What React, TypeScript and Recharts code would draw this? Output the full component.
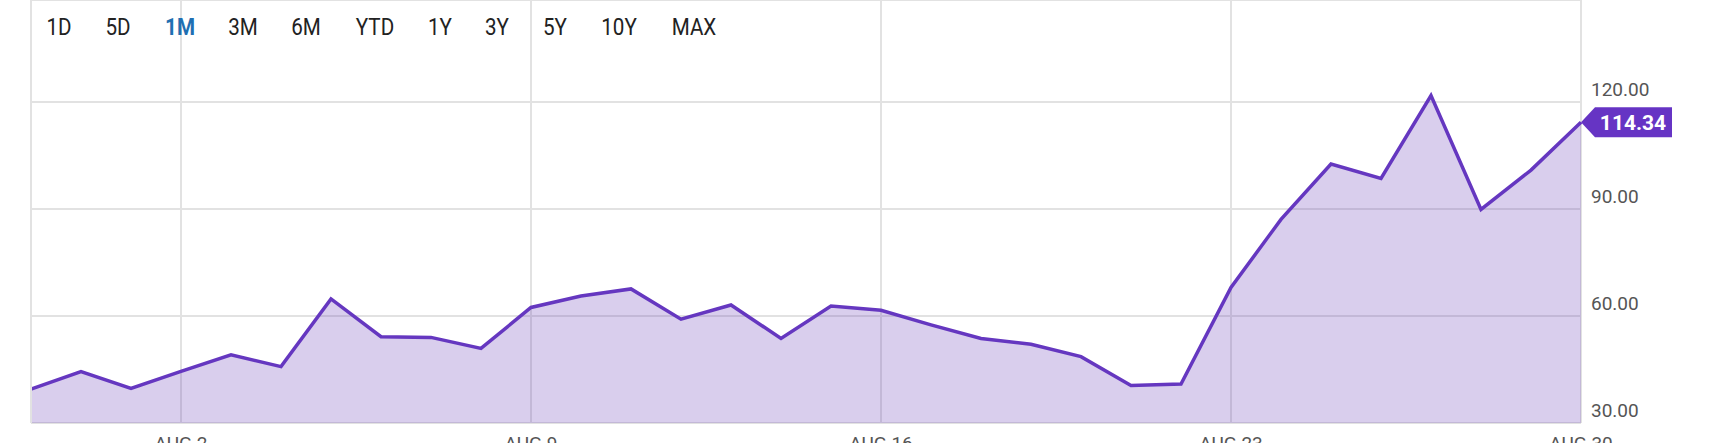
import React from "react";
import { AreaChart, Area, XAxis, YAxis, CartesianGrid, ReferenceLine } from "recharts";

const dates = [
  "Jul 30", "Jul 31", "Aug 1", "Aug 2", "Aug 3", "Aug 4", "Aug 5", "Aug 6",
  "Aug 7", "Aug 8", "Aug 9", "Aug 10", "Aug 11", "Aug 12", "Aug 13", "Aug 14",
  "Aug 15", "Aug 16", "Aug 17", "Aug 18", "Aug 19", "Aug 20", "Aug 21", "Aug 22",
  "Aug 23", "Aug 24", "Aug 25", "Aug 26", "Aug 27", "Aug 28", "Aug 29", "Aug 30",
];

const prices = [
  39.5, 44.4, 39.7, 44.5, 49.1, 45.8, 64.8, 54.2,
  54.0, 50.9, 62.4, 65.6, 67.6, 59.1, 63.1, 53.7,
  62.8, 61.6, 57.5, 53.7, 52.1, 48.6, 40.5, 40.9,
  68.0, 87.1, 102.6, 98.6, 121.8, 89.9, 100.9, 114.34,
];

const tickDates = ["Aug 2", "Aug 9", "Aug 16", "Aug 23", "Aug 30"];
const tickLabels = ["AUG 2", "AUG 9", "AUG 16", "AUG 23", "AUG 30"];
const yTicks = [30, 60, 90, 120];

const ranges = ["1D", "5D", "1M", "3M", "6M", "YTD", "1Y", "3Y", "5Y", "10Y", "MAX"];
const rangeCenters = [59, 118, 180, 243, 306, 375, 440, 497, 555, 619, 694];
const activeRange = "1M";

const data = dates.map((d, i) => ({ i, date: d, price: prices[i] }));
const xTicks = tickDates.map((d) => dates.indexOf(d));

const PURPLE = "#6537c0";
const BADGE = "#6634c4";
const GRID = "#e2e2e2";
const FONT = "Roboto, 'Noto Sans', sans-serif";

const XTick = (props: any) => {
  const { x, y, payload } = props;
  const idx = xTicks.indexOf(payload.value);
  return (
    <text x={x} y={y} dy="0.71em" textAnchor="middle" fill="#555" fontSize={19} fontFamily={FONT}>
      {idx >= 0 ? tickLabels[idx] : ""}
    </text>
  );
};

const YTick = (props: any) => {
  const { x, y, payload } = props;
  return (
    <text x={x} y={y - 6} textAnchor="start" fill="#555" fontSize={19} fontFamily={FONT}>
      {Number(payload.value).toFixed(2)}
    </text>
  );
};

const renderDot = (props: any) => {
  const { cx, cy, index } = props;
  if (index !== prices.length - 1) return <g key={`d${index}`} />;
  const pts = [
    [cx, cy],
    [cx + 14, cy - 15],
    [cx + 91, cy - 15],
    [cx + 91, cy + 15],
    [cx + 14, cy + 15],
  ]
    .map((p) => p.join(","))
    .join(" ");
  return (
    <g key="badge">
      <polygon points={pts} fill={BADGE} />
      <text x={cx + 52} y={cy + 8} textAnchor="middle" fill="#fff" fontSize={21} fontWeight={700} fontFamily={FONT}>
        {prices[index].toFixed(2)}
      </text>
    </g>
  );
};

export default function App() {
  return (
    <div
      style={{
        position: "absolute",
        left: 0,
        top: 0,
        width: 1713,
        height: 443,
        overflow: "hidden",
        background: "#fff",
      }}
    >
      <AreaChart width={1713} height={470} data={data} margin={{ top: 0, right: 0, bottom: 0, left: 31 }}>
        <CartesianGrid stroke={GRID} strokeWidth={2} vertical={true} horizontal={true} />
        <ReferenceLine x={0} stroke={GRID} strokeWidth={2} />
        <XAxis
          dataKey="i"
          type="number"
          domain={[0, dates.length - 1]}
          ticks={xTicks}
          tick={<XTick />}
          tickLine={false}
          axisLine={false}
          tickSize={6}
          tickMargin={8}
          height={47}
          interval={0}
        />
        <YAxis
          orientation="right"
          domain={[30, 148.6]}
          ticks={yTicks}
          tick={<YTick />}
          tickLine={false}
          axisLine={false}
          tickSize={0}
          tickMargin={10}
          width={132}
          interval={0}
        />
        <Area
          type="linear"
          dataKey="price"
          stroke={PURPLE}
          strokeWidth={3.5}
          fill="#673ab7"
          fillOpacity={0.25}
          dot={renderDot}
          activeDot={false}
          isAnimationActive={false}
        />
      </AreaChart>
      <svg
        width={1713}
        height={60}
        style={{ position: "absolute", left: 0, top: 0, pointerEvents: "none" }}
      >
        {ranges.map((r, k) => (
          <text
            key={r}
            transform={`translate(${rangeCenters[k]},34.5) scale(0.86,1)`}
            x={0}
            y={0}
            textAnchor="middle"
            fontSize={24}
            fontFamily={FONT}
            fontWeight={r === activeRange ? 700 : 400}
            fill={r === activeRange ? "#1f6fb2" : "#222"}
          >
            {r}
          </text>
        ))}
      </svg>
    </div>
  );
}
